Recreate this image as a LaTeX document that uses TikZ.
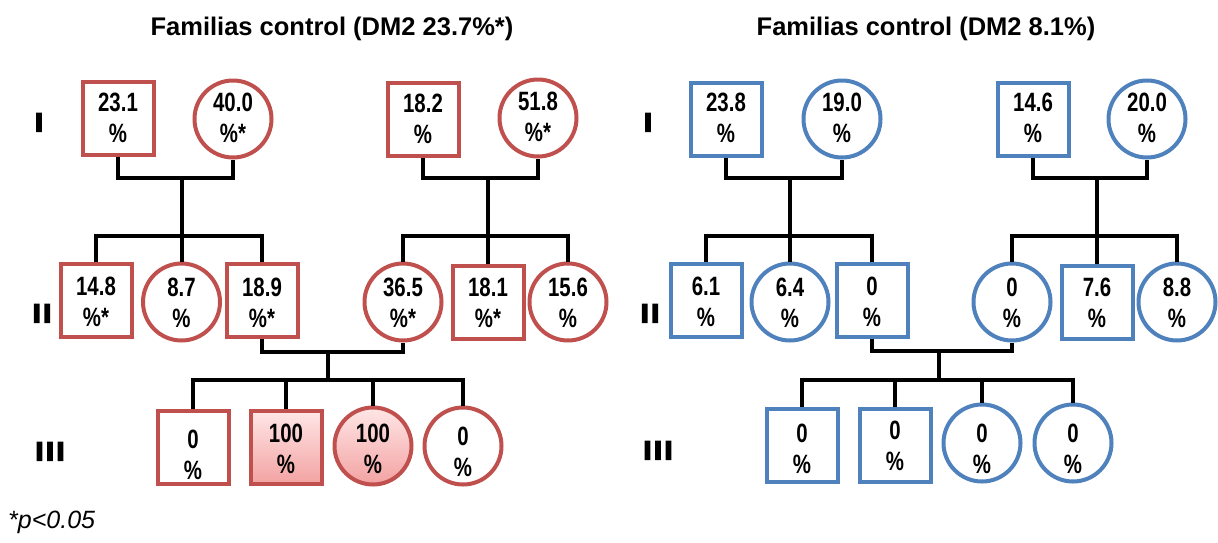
\documentclass[tikz,border=0pt]{standalone}
\usepackage{fontspec}
\setmainfont{Liberation Sans}
\newfontfamily\numfont[FakeStretch=0.77]{Liberation Sans}
\newfontfamily\genfont[LetterSpace=14,BoldFeatures={FakeBold=9}]{Liberation Sans}
\usetikzlibrary{calc,shadows}

\definecolor{famred}{HTML}{C0504D}
\definecolor{famblue}{HTML}{4F81BD}
\definecolor{pinktop}{HTML}{FFE6E6}
\definecolor{pinkbot}{HTML}{F3A2A2}

% two-line percentage label, lowered inside its symbol by the optional amount
\newcommand\pct[3][0pt]{\raisebox{-#1}[\height][\depth]{\begin{tabular}{@{}c@{}}#2\\#3\end{tabular}}}

\tikzset{
  pctnode/.style={font=\numfont\bfseries\fontsize{26.5}{31}\selectfont,
    inner sep=0pt, line width=4pt, fill=white},
  male/.style={pctnode, rectangle, minimum width=71pt, minimum height=73pt},
  female/.style={pctnode, circle, minimum size=77pt},
  redf/.style={draw=famred},
  bluef/.style={draw=famblue},
  affected/.style={top color=pinktop, bottom color=pinkbot,
    drop shadow={opacity=0.25, shadow xshift=1pt, shadow yshift=-1.5pt}},
  link/.style={line width=4pt, black},
  gen/.style={font=\genfont\bfseries\fontsize{25}{25}\selectfont, inner sep=0pt, anchor=base},
  heading/.style={font=\bfseries\fontsize{25.5}{30}\selectfont, inner sep=0pt, anchor=base},
}

\begin{document}
\begin{tikzpicture}[x=1pt,y=-1pt]
\useasboundingbox (0,0) rectangle (1218,542);

% headings
\node[heading] (hL) at (332,35) {Familias control (DM2 23.7\%*)};
\node[heading] (hR) at (926,35) {Familias control (DM2 8.1\%)};

% generation numbers
\node[gen] (gL1) at (39,131) {I};
\node[gen] (gL2) at (42,322) {II};
\node[gen] (gL3) at (50,460) {III};
\node[gen] (gR1) at (648,131) {I};
\node[gen] (gR2) at (650,322) {II};
\node[gen] (gR3) at (658,459) {III};

% ---- left family ----
\node[male,redf]   (L1a) at (118,118.5) {\pct[2pt]{23.1}{\%}};
\node[female,redf] (L1b) at (233,119)   {\pct[2pt]{40.0}{\%*}};
\node[male,redf]   (L1c) at (423,119.5) {\pct[2pt]{18.2}{\%}};
\node[female,redf] (L1d) at (538,118)   {\pct[2pt]{51.8}{\%*}};

\node[male,redf]   (L2a) at (96,300)    {\pct[5pt]{14.8}{\%*}};
\node[female,redf] (L2b) at (181.5,302) {\pct[4pt]{8.7}{\%}};
\node[male,redf]   (L2c) at (262,300.5) {\pct[5pt]{18.9}{\%*}};
\node[female,redf] (L2d) at (403,302)   {\pct[4pt]{36.5}{\%*}};
\node[male,redf]   (L2e) at (488,302)   {\pct[4pt]{18.1}{\%*}};
\node[female,redf] (L2f) at (568,302)   {\pct[4pt]{15.6}{\%}};

\node[male,redf]            (L3a) at (193,447.5) {\pct[10pt]{0}{\%}};
\node[male,redf,affected]   (L3b) at (286,447.5) {\pct[4pt]{100}{\%}};
\node[female,redf,affected] (L3c) at (373,446)   {\pct[6pt]{100}{\%}};
\node[female,redf]          (L3d) at (463,446)   {\pct[9pt]{0}{\%}};

\coordinate (mL1) at (181.5,178);
\coordinate (sL1) at (181.5,236);
\draw[link] (L1a) |- (mL1) -| (L1b);
\draw[link] (mL1) -- (L2b);
\draw[link] (L2a) |- (sL1) -| (L2c);

\coordinate (mL2) at (488,178);
\coordinate (sL2) at (488,236);
\draw[link] (L1c) |- (mL2) -| (L1d);
\draw[link] (mL2) -- (L2e);
\draw[link] (L2d) |- (sL2) -| (L2f);

\coordinate (mL3) at (328,352);
\coordinate (sL3) at (328,380);
\draw[link] (L2c) |- (mL3) -| (L2d);
\draw[link] (mL3) -- (sL3);
\draw[link] (L3a) |- (sL3) -| (L3d);
\draw[link] (L3b) -- (L3b |- sL3);
\draw[link] (L3c) -- (L3c |- sL3);

% ---- right family ----
\node[male,bluef]   (R1a) at (726,119)  {\pct[2pt]{23.8}{\%}};
\node[female,bluef] (R1b) at (842,119)  {\pct[2pt]{19.0}{\%}};
\node[male,bluef]   (R1c) at (1033,119) {\pct[2pt]{14.6}{\%}};
\node[female,bluef] (R1d) at (1147,119) {\pct[2pt]{20.0}{\%}};

\node[male,bluef]   (R2a) at (706,300)  {\pct[5pt]{6.1}{\%}};
\node[female,bluef] (R2b) at (790,302)  {\pct[4pt]{6.4}{\%}};
\node[male,bluef]   (R2c) at (872,300)  {\pct[5pt]{0}{\%}};
\node[female,bluef] (R2d) at (1012,302) {\pct[4pt]{0}{\%}};
\node[male,bluef]   (R2e) at (1097,302) {\pct[4pt]{7.6}{\%}};
\node[female,bluef] (R2f) at (1177,302) {\pct[4pt]{8.8}{\%}};

\node[male,bluef]   (R3a) at (802,445)  {\pct[7pt]{0}{\%}};
\node[male,bluef]   (R3b) at (895,445)  {\pct[4pt]{0}{\%}};
\node[female,bluef] (R3c) at (982,443)  {\pct[9pt]{0}{\%}};
\node[female,bluef] (R3d) at (1073,443) {\pct[9pt]{0}{\%}};

\coordinate (mR1) at (790,178);
\coordinate (sR1) at (790,236);
\draw[link] (R1a) |- (mR1) -| (R1b);
\draw[link] (mR1) -- (R2b);
\draw[link] (R2a) |- (sR1) -| (R2c);

\coordinate (mR2) at (1097,178);
\coordinate (sR2) at (1097,236);
\draw[link] (R1c) |- (mR2) -| (R1d);
\draw[link] (mR2) -- (R2e);
\draw[link] (R2d) |- (sR2) -| (R2f);

\coordinate (mR3) at (939,351);
\coordinate (sR3) at (939,380);
\draw[link] (R2c) |- (mR3) -| (R2d);
\draw[link] (mR3) -- (sR3);
\draw[link] (R3a) |- (sR3) -| (R3d);
\draw[link] (R3b) -- (R3b |- sR3);
\draw[link] (R3c) -- (R3c |- sR3);

% significance note
\node[anchor=base west, inner sep=0pt, font=\itshape\fontsize{25}{30}\selectfont] (note) at (8,528) {*p<0.05};
\end{tikzpicture}
\end{document}
